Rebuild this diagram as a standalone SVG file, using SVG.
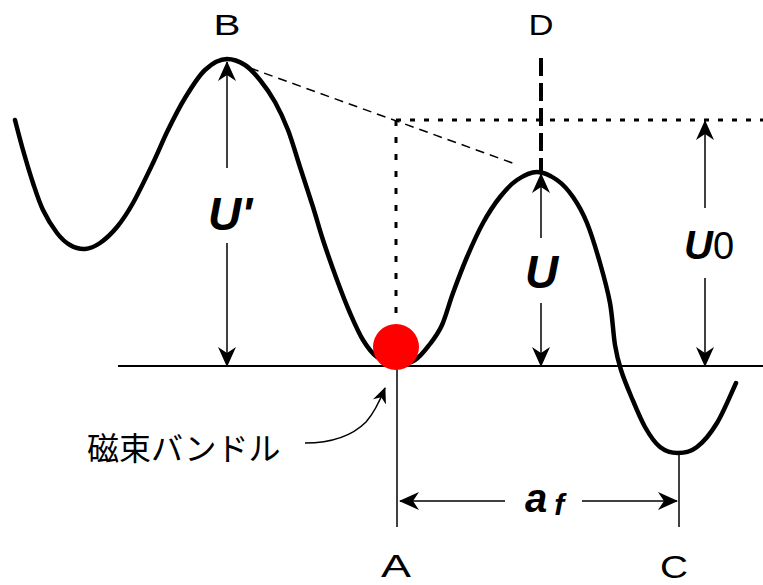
<svg xmlns="http://www.w3.org/2000/svg" width="763" height="585" viewBox="0 0 763 585">
<style>
.thin{stroke:#000;stroke-width:1.5;fill:none}
.axis{stroke:#000;stroke-width:2;fill:none}
.dot{stroke:#000;stroke-width:3;fill:none}
.dash{stroke:#000;stroke-width:1.5;fill:none;stroke-dasharray:9 6}
.dashD{stroke:#000;stroke-width:4;fill:none;stroke-dasharray:18 7}
.lbl{font-family:"Liberation Sans",Arial,sans-serif;font-size:30px;fill:#000}
.sym{font-family:"Liberation Sans",Arial,sans-serif;font-weight:bold;font-style:italic;fill:#000}
.jp{font-family:"Liberation Sans","Noto Sans CJK JP",sans-serif;font-size:32px;fill:#000}
</style>
<defs>
<marker id="ah" viewBox="0 0 20 18" refX="19" refY="9" markerWidth="20" markerHeight="18" markerUnits="userSpaceOnUse" orient="auto">
<path d="M0,0 L20,9 L0,18 L6,9 Z" fill="#000"/>
</marker>
<marker id="ahs" viewBox="0 0 16 14" refX="15" refY="7" markerWidth="16" markerHeight="14" markerUnits="userSpaceOnUse" orient="auto">
<path d="M0,0 L16,7 L0,14 L5,7 Z" fill="#000"/>
</marker>
</defs>
<rect width="763" height="585" fill="#fff"/>

<g id="guides">
<line class="axis" x1="118" y1="366" x2="763" y2="366"/>
<line class="thin" x1="397" y1="366" x2="397" y2="527"/>
<line class="thin" x1="679" y1="453" x2="679" y2="527"/>
<line class="dot" x1="396" y1="120" x2="396" y2="322" style="stroke-dasharray:6 11"/>
<line class="dot" x1="396" y1="120" x2="763" y2="120" style="stroke-dasharray:5 9"/>
<line class="dash" x1="250" y1="68" x2="518" y2="165"/>
<line class="dashD" x1="541" y1="58" x2="541" y2="171"/>
</g>

<g id="curve">
<path fill="none" stroke="#000" stroke-width="4.5" stroke-linecap="round" stroke-linejoin="round" d="M15,120 C16.33,125 20,139.5 23,150 C26,160.5 29.67,173 33,183 C36.33,193 39,201.67 43,210 C47,218.33 52.5,227.17 57,233 C61.5,238.83 65.33,242.33 70,245 C74.67,247.67 80,249.33 85,249 C90,248.67 94.67,246.67 100,243 C105.33,239.33 111.5,233.67 117,227 C122.5,220.33 127,213.67 133,203 C139,192.33 147.17,175.17 153,163 C158.83,150.83 162.67,140.83 168,130 C173.33,119.17 178.83,108 185,98 C191.17,88 198,76.5 205,70 C212,63.5 220.33,59 227,59 C233.67,59 239.5,61.5 245,65 C250.5,68.5 255,73.83 260,80 C265,86.17 270.33,93.67 275,102 C279.67,110.33 283.83,119.17 288,130 C292.17,140.83 295.83,154.17 300,167 C304.17,179.83 309.17,194.83 313,207 C316.83,219.17 319,227.83 323,240 C327,252.17 332.5,267.83 337,280 C341.5,292.17 345.67,303 350,313 C354.33,323 358.5,332.67 363,340 C367.5,347.33 371.5,353 377,357 C382.5,361 389.67,363.5 396,364 C402.33,364.5 409.33,363.33 415,360 C420.67,356.67 425.5,349.83 430,344 C434.5,338.17 438.17,333.5 442,325 C445.83,316.5 448.83,304.33 453,293 C457.17,281.67 462,268.67 467,257 C472,245.33 477.5,233 483,223 C488.5,213 494.33,204.17 500,197 C505.67,189.83 510.83,184.17 517,180 C523.17,175.83 530.33,172 537,172 C543.67,172 551,175.83 557,180 C563,184.17 568,189.83 573,197 C578,204.17 582.5,212 587,223 C591.5,234 596.17,249.67 600,263 C603.83,276.33 607.5,289.33 610,303 C612.5,316.67 613.17,333.83 615,345 C616.83,356.17 618.33,361.5 621,370 C623.67,378.5 627,386.5 631,396 C635,405.5 640.17,418.5 645,427 C649.83,435.5 654.5,442.67 660,447 C665.5,451.33 671.83,453 678,453 C684.17,453 690.5,452 697,447 C703.5,442 710.5,433.67 717,423 C723.5,412.33 732.83,389.67 736,383"/>
</g>

<g id="ball">
<circle cx="396" cy="347" r="23" fill="#ff0000"/>
</g>

<g id="connectors">
<line class="thin" x1="227" y1="168" x2="227" y2="62" marker-end="url(#ah)"/>
<line class="thin" x1="227" y1="243" x2="227" y2="366" marker-end="url(#ah)"/>
<line class="thin" x1="541" y1="238" x2="541" y2="174" marker-end="url(#ah)"/>
<line class="thin" x1="541" y1="303" x2="541" y2="366" marker-end="url(#ah)"/>
<line class="thin" x1="705" y1="208" x2="705" y2="121" marker-end="url(#ah)"/>
<line class="thin" x1="705" y1="278" x2="705" y2="366" marker-end="url(#ah)"/>
<line class="thin" x1="505" y1="501" x2="400" y2="501" marker-end="url(#ah)"/>
<line class="thin" x1="582" y1="501" x2="677" y2="501" marker-end="url(#ah)"/>
<path class="thin" d="M305,443 C330,443 352,436 366,422 C374,413 379,403 385,388" marker-end="url(#ahs)"/>
</g>

<g id="labels">
<text class="lbl" x="227" y="35" text-anchor="middle" textLength="27" lengthAdjust="spacingAndGlyphs">B</text>
<text class="lbl" x="541" y="35" text-anchor="middle" textLength="25" lengthAdjust="spacingAndGlyphs">D</text>
<text class="lbl" x="396" y="577" text-anchor="middle" style="font-size:32px" textLength="30" lengthAdjust="spacingAndGlyphs">A</text>
<text class="lbl" x="674" y="578" text-anchor="middle" style="font-size:32px" textLength="28" lengthAdjust="spacingAndGlyphs">C</text>
<text class="sym" x="208" y="230" style="font-size:46px">U'</text>
<text class="sym" x="525" y="288" style="font-size:46px">U</text>
<text x="684" y="259"><tspan class="sym" style="font-size:40px">U</tspan><tspan style="font-family:'Liberation Sans',Arial,sans-serif;font-size:38px">0</tspan></text>
<text x="525" y="512"><tspan class="sym" style="font-size:40px">a</tspan><tspan class="sym" style="font-size:30px" dx="7" dy="3">f</tspan></text>
<text class="jp" x="87" y="460">磁束バンドル</text>
</g>
</svg>
